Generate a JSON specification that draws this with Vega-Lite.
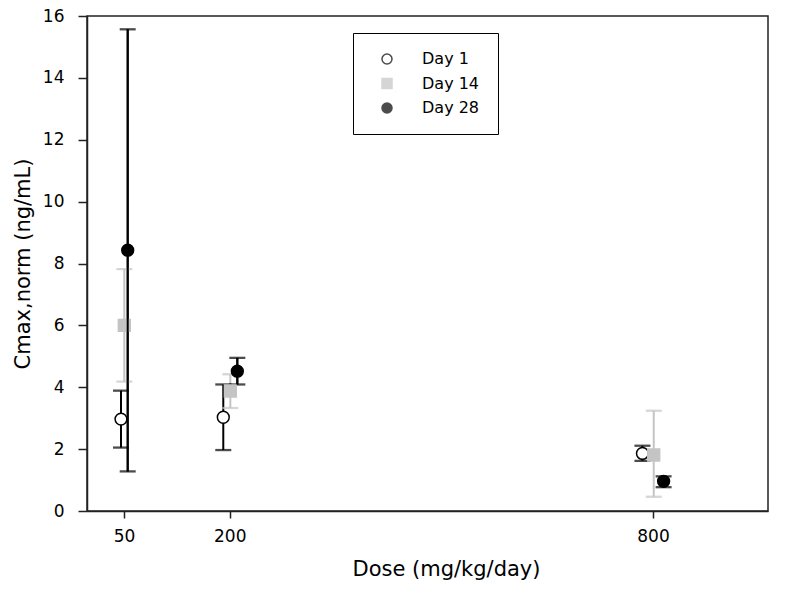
{
  "$schema": "https://vega.github.io/schema/vega-lite/v6.json",
  "width": 681,
  "height": 495,
  "autosize": "none",
  "padding": {"left": 87, "top": 16, "right": 20, "bottom": 86},
  "background": "white",
  "config": {
    "font": "DejaVu Sans",
    "view": {"stroke": "#222", "strokeWidth": 1.5},
    "axis": {"grid": false, "domainColor": "#222", "domainWidth": 1.5, "tickColor": "#222", "tickWidth": 1.5, "labelColor": "black", "titleColor": "black", "labelFontSize": 17, "titleFontSize": 21, "titleFontWeight": "normal", "labelFont": "DejaVu Sans", "titleFont": "DejaVu Sans"}
  },
  "data": {"values": [
    {"day": "Day 1", "dose": 50, "xpos": 45.8, "mean": 2.97, "lo": 2.05, "hi": 3.89},
    {"day": "Day 14", "dose": 50, "xpos": 50.5, "mean": 6.0, "lo": 4.18, "hi": 7.82},
    {"day": "Day 28", "dose": 50, "xpos": 55.3, "mean": 8.43, "lo": 1.28, "hi": 15.57},
    {"day": "Day 1", "dose": 200, "xpos": 190.8, "mean": 3.03, "lo": 1.97, "hi": 4.09},
    {"day": "Day 14", "dose": 200, "xpos": 200.8, "mean": 3.88, "lo": 3.33, "hi": 4.42},
    {"day": "Day 28", "dose": 200, "xpos": 210.7, "mean": 4.52, "lo": 4.09, "hi": 4.95},
    {"day": "Day 1", "dose": 800, "xpos": 785, "mean": 1.86, "lo": 1.62, "hi": 2.11},
    {"day": "Day 14", "dose": 800, "xpos": 801, "mean": 1.81, "lo": 0.46, "hi": 3.24},
    {"day": "Day 28", "dose": 800, "xpos": 815, "mean": 0.96, "lo": 0.77, "hi": 1.12}
  ]},
  "encoding": {
    "x": {"field": "xpos", "type": "quantitative", "scale": {"domain": [-2.4, 963], "nice": false, "zero": false},
      "axis": {"values": [50, 200, 800], "title": "Dose (mg/kg/day)", "tickSize": 7, "labelPadding": 10, "titlePadding": 14, "titleX": 359, "labelFlush": false}},
    "y": {"field": "mean", "type": "quantitative", "scale": {"domain": [0, 16], "nice": false},
      "axis": {"values": [0, 2, 4, 6, 8, 10, 12, 14, 16], "title": "Cmax,norm (ng/mL)", "tickSize": 9, "labelPadding": 14, "titlePadding": 9}},
    "stroke": {"field": "day", "type": "nominal", "scale": {"domain": ["Day 1", "Day 14", "Day 28"], "range": ["black", "#c4c4c4", "black"]}}
  },
  "layer": [
    {
      "mark": {"type": "rule", "strokeWidth": 2},
      "encoding": {
        "y": {"field": "lo", "type": "quantitative"},
        "y2": {"field": "hi"}
      }
    },
    {
      "mark": {"type": "tick", "orient": "horizontal", "size": 14, "thickness": 0.3, "filled": false, "strokeWidth": 2},
      "encoding": {
        "y": {"field": "lo", "type": "quantitative"}
      }
    },
    {
      "mark": {"type": "tick", "orient": "horizontal", "size": 14, "thickness": 0.3, "filled": false, "strokeWidth": 2},
      "encoding": {
        "y": {"field": "hi", "type": "quantitative"}
      }
    },
    {
      "mark": {"type": "point", "filled": false, "size": 140, "strokeWidth": 1.5, "opacity": 1, "fillOpacity": 1, "strokeOpacity": 1},
      "encoding": {
        "shape": {"field": "day", "type": "nominal", "scale": {"domain": ["Day 1", "Day 14", "Day 28"], "range": ["circle", "square", "circle"]},
          "legend": {"title": null, "orient": "none", "legendX": 266, "legendY": 17, "strokeColor": "black", "fillColor": "white", "padding": 18, "symbolOffset": 8, "labelOffset": 27, "labelFontSize": 16, "labelFont": "DejaVu Sans", "labelColor": "black", "symbolSize": 100, "rowPadding": 8.5, "symbolStrokeWidth": 1.5, "symbolOpacity": 1,
            "encode": {"symbols": {"update": {"opacity": {"value": 1}, "fillOpacity": {"value": 1}, "strokeOpacity": {"value": 1}}}}}},
        "fill": {"field": "day", "type": "nominal", "scale": {"domain": ["Day 1", "Day 14", "Day 28"], "range": ["white", "#c4c4c4", "black"]}}
      }
    },
    {
      "transform": [{"filter": "datum.day === 'Day 28'"}],
      "mark": {"type": "rule", "strokeWidth": 2},
      "encoding": {
        "y": {"field": "lo", "type": "quantitative"},
        "y2": {"field": "hi"},
        "stroke": {"value": "black"}
      }
    }
  ]
}
